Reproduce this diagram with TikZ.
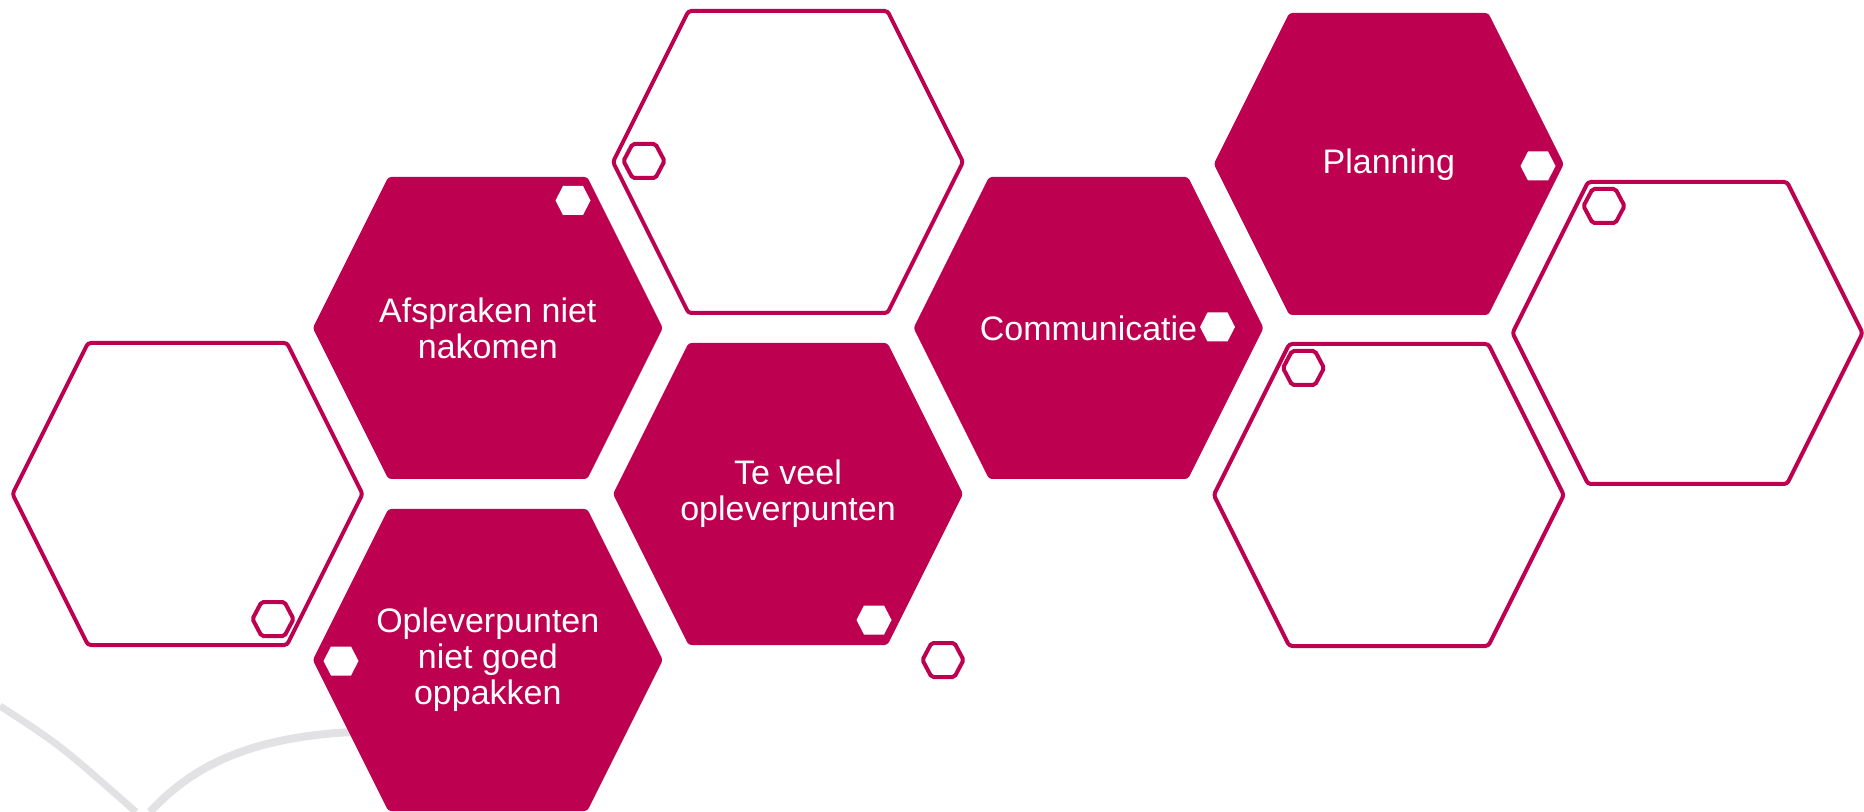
\documentclass[tikz,border=0pt]{standalone}
\usepackage{fontspec}
\setmainfont{Liberation Sans}
\definecolor{ruby}{RGB}{189,0,79}
\definecolor{haze}{RGB}{226,226,229}
% style, centre, half width, half top edge, half height
\def\honeycomb#1#2#3#4#5{
	\draw [#1] #2 ++(-#3,0) -- ++(#3-#4,-#5) -- ++(2*#4,0) -- ++(#3-#4,#5)
		-- ++(#4-#3,#5) -- ++(-2*#4,0) -- cycle;
}
\def\bigcell#1#2{\honeycomb{#1}{#2}{175}{99.5}{151}}
\def\rimcell#1{\honeycomb{rim, fill=white}{#1}{20.5}{11.5}{17}}
\def\dotcell#1{\honeycomb{draw=none, fill=white}{#1}{17.5}{10}{14.5}}

\begin{document}
\begin{tikzpicture}[x=0.5pt, y=-0.5pt,
	rim/.style={draw=ruby, line width=2pt, rounded corners=1pt},
	solid cell/.style={draw=none, fill=ruby, rounded corners=1.5pt},
	open cell/.style={rim, fill=white, rounded corners=1.5pt},
	caption/.style={text=white, align=center, font=\fontsize{17}{17.9}\selectfont},
	]
	\useasboundingbox (0,0) rectangle (1864,812);

	% background swirl
	\draw [haze, line width=3.5pt] (0,706) .. controls (60,745) .. (136,812);
	\draw [haze, line width=4pt] (150,812) .. controls (205,752) and (280,730) .. (400,731);

	\bigcell{open cell}{(187.5,494)}
	\bigcell{solid cell}{(487.8,328)}
	\bigcell{solid cell}{(487.8,660)}
	\bigcell{open cell}{(788,162)}
	\bigcell{solid cell}{(788,494)}
	\bigcell{solid cell}{(1088.5,328)}
	\bigcell{solid cell}{(1388.8,164)}
	\bigcell{open cell}{(1388.8,495)}
	\bigcell{open cell}{(1687.5,333)}

	% the little ones
	\rimcell{(273,619)}
	\rimcell{(644,161)}
	\rimcell{(943,660)}
	\rimcell{(1303.5,368)}
	\rimcell{(1604,206)}
	\dotcell{(341,661)}
	\dotcell{(573,200.5)}
	\dotcell{(874,620)}
	\dotcell{(1217.5,327)}
	\dotcell{(1538,166)}

	\node[caption] (afspraken) at (487.8,328) {Afspraken niet\\nakomen};
	\node[caption] (oppakken) at (487.8,660) {Opleverpunten\\niet goed\\oppakken};
	\node[caption] (teveel) at (788,494) {Te veel\\opleverpunten};
	\node[caption] (communicatie) at (1088.5,328) {Communicatie};
	\node[caption] (planning) at (1388.8,165) {Planning};
\end{tikzpicture}
\end{document}
